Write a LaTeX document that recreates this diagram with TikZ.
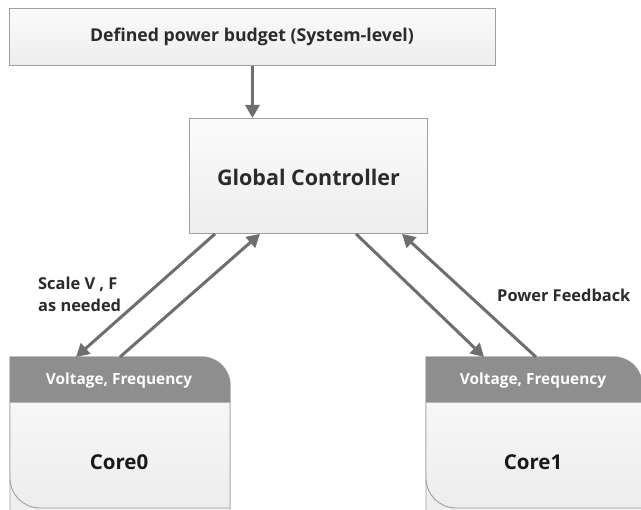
\documentclass[tikz,border=0pt]{standalone}
\usepackage{fontspec}
\setmainfont{Open Sans}
\usetikzlibrary{arrows.meta,calc}
\definecolor{boxline}{HTML}{A0A0A0}
\definecolor{boxtop}{HTML}{FBFBFB}
\definecolor{boxbot}{HTML}{EDEDED}
\definecolor{band}{HTML}{8E8E8E}
\definecolor{arrowgray}{HTML}{6E6E6E}
\definecolor{txt}{HTML}{2B2B2B}
\tikzset{
  panel/.style={draw=boxline, line width=0.9pt, top color=boxtop, bottom color=boxbot},
  title/.style={font=\bfseries\fontsize{17.7}{21}\selectfont, text=txt},
  gctitle/.style={font=\bfseries\fontsize{21.5}{25}\selectfont, text=txt},
  lbl/.style={font=\bfseries\fontsize{16.4}{22}\selectfont, text=txt, align=left},
  bandtext/.style={font=\bfseries\fontsize{15.4}{18}\selectfont, text=white},
  coretext/.style={font=\bfseries\fontsize{20.5}{24}\selectfont, text=black!90},
  flow/.style={draw=arrowgray, line width=3pt, -{Triangle[length=13pt,width=14pt]}},
}
\begin{document}
\begin{tikzpicture}[x=1pt,y=-1pt]
\useasboundingbox (0,0) rectangle (641,510);
\fill[white] (0,0) rectangle (641,510);

% system-level budget and controller
\node[panel, minimum width=486pt, minimum height=57pt, anchor=north west, inner sep=0pt]
  (budget) at (8.5,8) {};
\node[title] at (budget.center) {Defined power budget (System-level)};
\node[panel, minimum width=238pt, minimum height=115pt, anchor=north west, inner sep=0pt]
  (gc) at (189,118) {};
\node[gctitle] at ($(gc.center)+(0,1.5)$) {Global Controller};

% core blocks: grey header band over a light body
\foreach \x/\w/\name in {10/220/Core0, 426/216/Core1}{
  \pgfmathsetmacro{\xr}{\x+\w}
  \path[panel]
    (\x,357) -- (\xr-28,357) arc(-90:0:28) -- (\xr,520) -- (\x,520) -- cycle;
  \path[panel]
    (\x,357) -- (\xr-28,357) arc(-90:0:28) -- (\xr,508) -- (\x+30,508) arc(90:180:30) -- cycle;
  \fill[band]
    (\x,357) -- (\xr-28,357) arc(-90:0:28) -- (\xr,402) -- (\x,402) -- cycle;
  \draw[boxline!80, line width=0.8pt] (\x,402) -- (\xr,402);
  \node[bandtext] at (\x+0.5*\w-1,381) {Voltage, Frequency};
  \node[coretext] at (\x+0.5*\w-1,462) {\name};
}
\node[inner sep=0pt, minimum width=220pt, minimum height=45pt, anchor=north west] (c0) at (10,357) {};
\node[inner sep=0pt, minimum width=216pt, minimum height=45pt, anchor=north west] (c1) at (426,357) {};

% connector end points on the box edges
\coordinate (gcL1) at ($(gc.south west)+(26,0)$);
\coordinate (gcL2) at ($(gc.south west)+(71,0)$);
\coordinate (gcR1) at ($(gc.south west)+(167,0)$);
\coordinate (gcR2) at ($(gc.south west)+(213,0)$);
\coordinate (c0a) at ($(c0.north west)+(66,0)$);
\coordinate (c0b) at ($(c0.north west)+(110,0)$);
\coordinate (c1a) at ($(c1.north west)+(58,0)$);
\coordinate (c1b) at ($(c1.north west)+(110,0)$);

\draw[flow] (budget.south) ++(0.5,0) coordinate (bs) -- (bs |- gc.north);
\draw[flow] (gcL1) -- (c0a);
\draw[flow] (c0b) -- (gcL2);
\draw[flow] (gcR1) -- (c1a);
\draw[flow] (c1b) -- (gcR2);

% connector labels
\node[lbl, anchor=west, inner sep=0pt] (sv) at (38,294) {Scale V , F\\as needed};
\node[lbl, anchor=west, inner sep=0pt] (pf) at (497,295) {Power Feedback};
\end{tikzpicture}
\end{document}
